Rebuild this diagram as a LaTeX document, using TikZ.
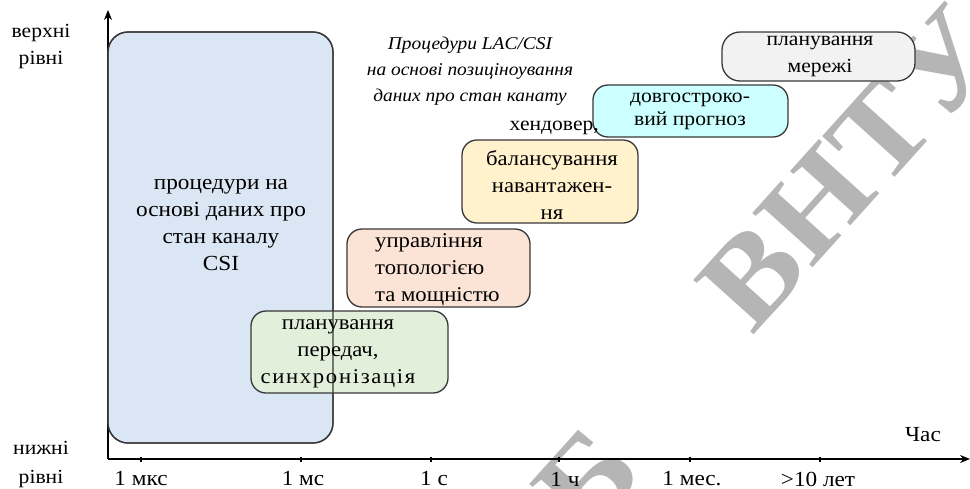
\documentclass[tikz,border=0pt]{standalone}
\usepackage{fontspec}
\setmainfont{Liberation Serif}[FakeStretch=1.08]
\usetikzlibrary{arrows.meta}
\definecolor{bluefill}{HTML}{DAE6F3}
\definecolor{greenfill}{HTML}{E2EFDA}
\definecolor{peachfill}{HTML}{FBE4D5}
\definecolor{yellowfill}{HTML}{FFF2CC}
\definecolor{cyanfill}{HTML}{CCFFFF}
\definecolor{grayfill}{HTML}{F2F2F2}
\definecolor{boxline}{HTML}{383838}
\definecolor{wmark}{HTML}{B5B5B5}
\begin{document}
\begin{tikzpicture}[x=1pt,y=-1pt,
  box/.style={draw=boxline, line width=1.3pt, rounded corners=15pt, inner sep=0pt, outer sep=0pt},
  txt/.style={inner sep=0pt, align=center, font=\fontsize{21}{27}\selectfont},
  stxt/.style={inner sep=0pt, align=center, font=\fontsize{20}{27}\selectfont},
  itxt/.style={inner sep=0pt, align=center, font=\fontsize{18}{26}\selectfont\itshape},
  lbl/.style={inner sep=0pt, font=\fontsize{20}{27}\selectfont},
  tlbl/.style={inner sep=0pt, font=\fontsize{21.5}{27}\selectfont},
  axis/.style={line width=1.3pt, -{Stealth[length=10pt,width=8pt]}},
  tick/.style={line width=2.4pt},
  wm/.style={inner sep=0pt, text=wmark, rotate=48, font=\fontsize{124}{124}\selectfont\bfseries}
]
\useasboundingbox (0,0) rectangle (970,488);
\begin{scope}
\clip (0,0) rectangle (970,488);
% watermark
\node[wm] (wm1) at (850,168) {ВНТУ};
\node[wm] (wm2) at (588,480) {Б};
\end{scope}

% axes
\coordinate (o) at (108,459);
\coordinate (ytop) at (108,10);
\coordinate (xend) at (970,459);
\draw[axis] (o) -- (ytop);
\draw[axis] (o) -- (xend);

% ticks
\foreach \n/\x in {t1/141,t2/301,t3/431,t4/559,t5/690,t6/820}{
  \coordinate (\n a) at (\x,456.5);
  \coordinate (\n b) at (\x,461.5);
  \draw[tick] (\n a) -- (\n b);
}

% tick labels
\node[tlbl] (l1) at (141,479) {1 мкс};
\node[tlbl] (l2) at (303,479) {1 мс};
\node[tlbl] (l3) at (434,479) {1 с};
\node[tlbl] (l4) at (565,479) {1 ч};
\node[tlbl] (l5) at (692,479) {1 мес.};
\node[tlbl] (l6) at (818,479) {>10 лет};
\node[tlbl] (chas) at (923,435) {Час};

% y labels
\node[lbl] (up1) at (41,33) {верхні};
\node[lbl] (up2) at (41,60) {рівні};
\node[lbl] (lo1) at (41,448) {нижні};
\node[lbl] (lo2) at (41,479) {рівні};

% boxes
\node[box, fill=bluefill, rounded corners=20pt, minimum width=225pt, minimum height=411pt] (csi) at (220.5,237.5) {};
\node[box, fill=greenfill, minimum width=197pt, minimum height=82pt] (sched) at (349.5,352) {};
\draw[draw=boxline, line width=1.3pt, rounded corners=20pt] (csi.north west) rectangle (csi.south east);
\node[box, fill=peachfill, minimum width=183pt, minimum height=78pt] (topo) at (438.5,268) {};
\node[box, fill=yellowfill, minimum width=176pt, minimum height=83pt] (bal) at (550,181.5) {};
\node[box, fill=cyanfill, minimum width=195pt, minimum height=52pt] (prog) at (690.5,111) {};
\node[box, fill=grayfill, minimum width=193pt, minimum height=49pt, rounded corners=18pt] (net) at (818.5,56.5) {};

% box texts
\node[txt, font=\fontsize{21.5}{27}\selectfont] (csit) at (221,225) {процедури на\\основі даних про\\стан каналу\\CSI};
\node[txt] (schedt) at (338,354) {планування\\передач,\\{\addfontfeature{LetterSpace=8}синхронізація}};
\node[txt, align=left, anchor=west] (topot) at (375,270) {управління\\топологією\\та мощністю};
\node[txt] (balt) at (552,185) {балансування\\навантажен-\\ня};
\node[stxt, font=\fontsize{20}{23}\selectfont] (progt) at (690,111.5) {довгостроко-\\вий прогноз};
\node[stxt] (nett) at (820,56.5) {планування\\мережі};

% free texts
\node[lbl, anchor=east] (hand) at (599,128) {хендовер,};
\node[itxt] (lac) at (470,71) {Процедури LAC/CSI\\на основі позиціноування\\даних про стан канату};
\end{tikzpicture}
\end{document}
